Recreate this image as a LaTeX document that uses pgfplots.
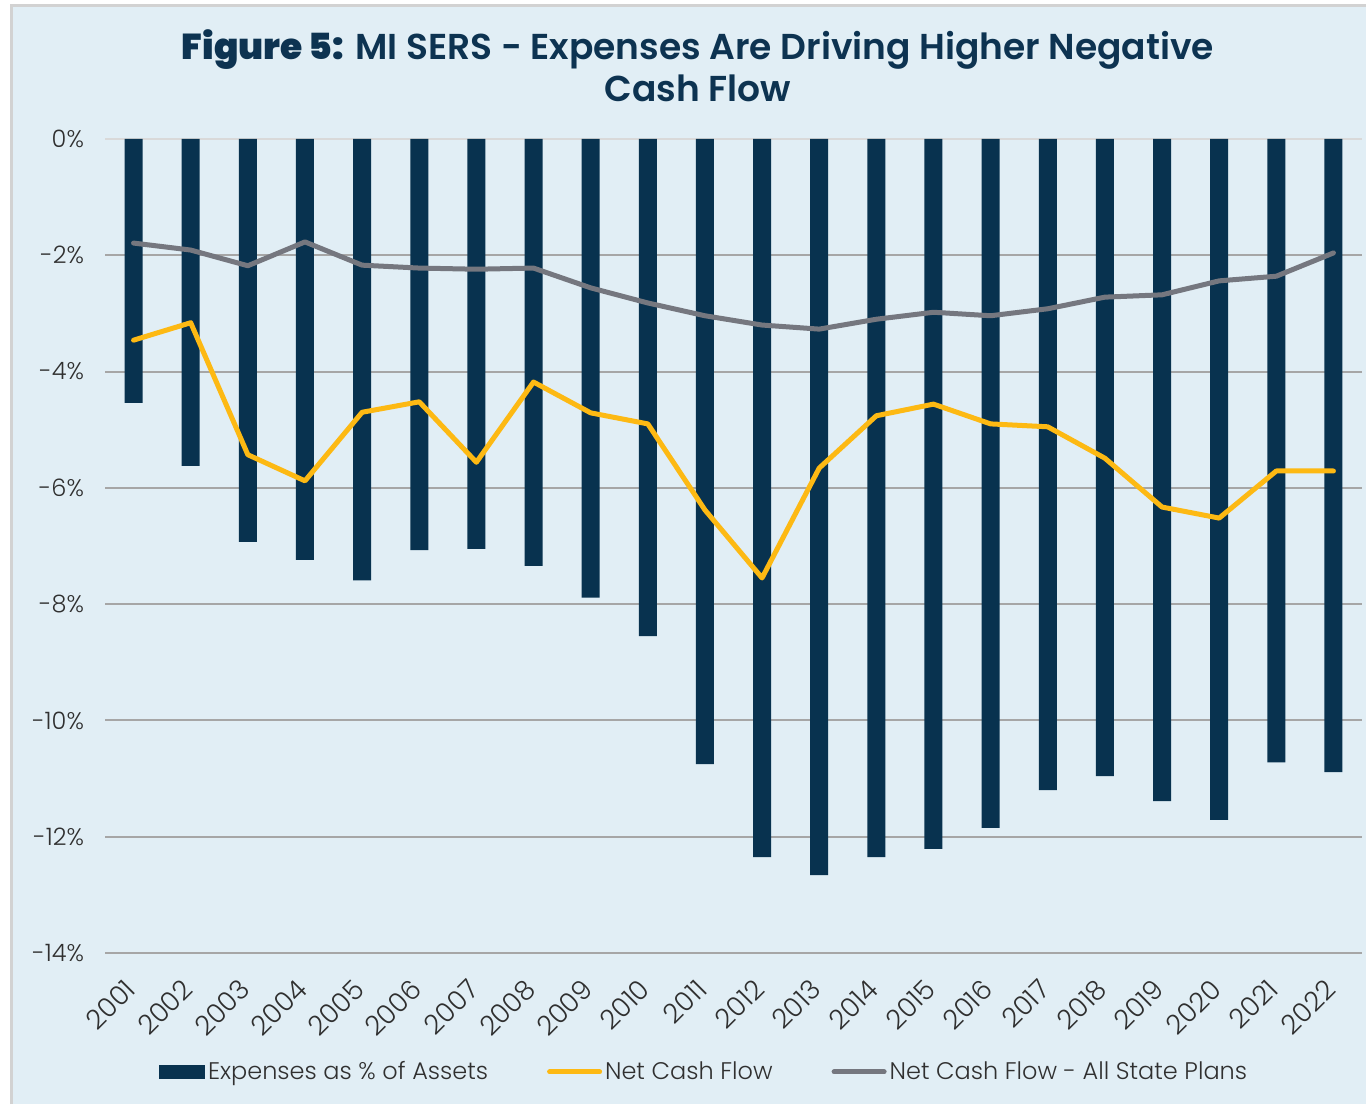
\documentclass[border=0pt]{standalone}
\usepackage{pgfplots}
\pgfplotsset{compat=1.18}
\usepackage{fontspec}
\setmainfont{Poppins Light}[BoldFont={Poppins SemiBold}]
\newfontfamily\heavy{Poppins ExtraBold}
\definecolor{bgblue}{HTML}{E1EEF5}
\definecolor{navy}{HTML}{08324F}
\definecolor{gold}{HTML}{FDB913}
\definecolor{slate}{HTML}{75777F}
\definecolor{gridgray}{HTML}{A6A6A6}
\definecolor{titlecol}{HTML}{0D3351}
\definecolor{ticktext}{HTML}{303030}
\begin{document}
\begin{tikzpicture}
\path[use as bounding box] (0pt,0pt) rectangle (683pt,552pt);
\fill[bgblue] (5.5pt,0pt) rectangle (683pt,549pt);
\draw[gray!35,line width=1.5pt] (5.5pt,0pt) -- (5.5pt,549pt) -- (683pt,549pt);
\node[font=\fontsize{18}{21}\selectfont\bfseries, text=titlecol, align=center, anchor=center] at (349pt,519pt)
  {{\heavy Figure 5:} MI SERS - Expenses Are Driving Higher Negative\\Cash Flow};
\begin{axis}[
  at={(52.5pt,75.5pt)}, anchor=south west,
  scale only axis, width=628.5pt, height=407pt,
  xmin=2000.5, xmax=2022.5, ymin=-14, ymax=0,
  axis line style={draw=none},
  major tick length=0pt,
  xtick={2001,...,2022},
  xticklabels={2001,2002,2003,2004,2005,2006,2007,2008,2009,2010,2011,2012,2013,2014,2015,2016,2017,2018,2019,2020,2021,2022},
  xticklabel style={anchor=north east, xshift=-5pt, yshift=-12pt, rotate=45, font=\fontsize{13.5}{15}\selectfont, text=ticktext, inner sep=0pt},
  ytick={-14,-12,...,-2},
  yticklabels={-14\%,-12\%,-10\%,-8\%,-6\%,-4\%,-2\%},
  extra y ticks={0}, extra y tick labels={0\%},
  extra y tick style={grid style={color=gray!30, line width=1pt}},
  yticklabel style={font=\fontsize{12}{13}\selectfont, text=ticktext, xshift=-7pt},
  ymajorgrids, grid style={color=gridgray, line width=1pt},
  legend columns=3,
  legend style={at={(0.477,-0.146)}, anchor=center, draw=none, fill=none,
    font=\fontsize{12}{14}\selectfont, text=ticktext,
    /tikz/every even column/.append style={column sep=28pt},
    nodes={inner sep=1.5pt}},
  legend cell align=left,
]
\addplot[ybar, bar width=9pt, fill=navy, draw=none,
  legend image code/.code={\fill[navy] (0pt,-3.5pt) rectangle (23pt,3.5pt);}]
 coordinates {
 (2001,-4.54) (2002,-5.62) (2003,-6.93) (2004,-7.24) (2005,-7.59) (2006,-7.07)
 (2007,-7.05) (2008,-7.34) (2009,-7.89) (2010,-8.55) (2011,-10.75) (2012,-12.35)
 (2013,-12.66) (2014,-12.35) (2015,-12.21) (2016,-11.85) (2017,-11.20) (2018,-10.96)
 (2019,-11.39) (2020,-11.71) (2021,-10.72) (2022,-10.89)};
\addlegendentry{Expenses as \% of Assets}
\addplot[gold, line width=2.5pt, line join=round, line cap=round, mark=none,
  legend image code/.code={\draw[gold, line width=2.5pt, line cap=round] (0pt,0pt) -- (25pt,0pt);}]
 coordinates {
 (2001,-3.46) (2002,-3.16) (2003,-5.43) (2004,-5.88) (2005,-4.70) (2006,-4.52)
 (2007,-5.56) (2008,-4.18) (2009,-4.71) (2010,-4.90) (2011,-6.38) (2012,-7.55)
 (2013,-5.66) (2014,-4.76) (2015,-4.56) (2016,-4.90) (2017,-4.95) (2018,-5.49)
 (2019,-6.33) (2020,-6.52) (2021,-5.71) (2022,-5.71)};
\addlegendentry{Net Cash Flow}
\addplot[slate, line width=2.5pt, line join=round, line cap=round, mark=none,
  legend image code/.code={\draw[slate, line width=2.5pt, line cap=round] (0pt,0pt) -- (25pt,0pt);}]
 coordinates {
 (2001,-1.79) (2002,-1.91) (2003,-2.18) (2004,-1.77) (2005,-2.17) (2006,-2.22)
 (2007,-2.24) (2008,-2.22) (2009,-2.56) (2010,-2.82) (2011,-3.04) (2012,-3.20)
 (2013,-3.27) (2014,-3.10) (2015,-2.98) (2016,-3.04) (2017,-2.92) (2018,-2.72)
 (2019,-2.68) (2020,-2.44) (2021,-2.36) (2022,-1.96)};
\addlegendentry{Net Cash Flow - All State Plans}
\end{axis}
\end{tikzpicture}
\end{document}
